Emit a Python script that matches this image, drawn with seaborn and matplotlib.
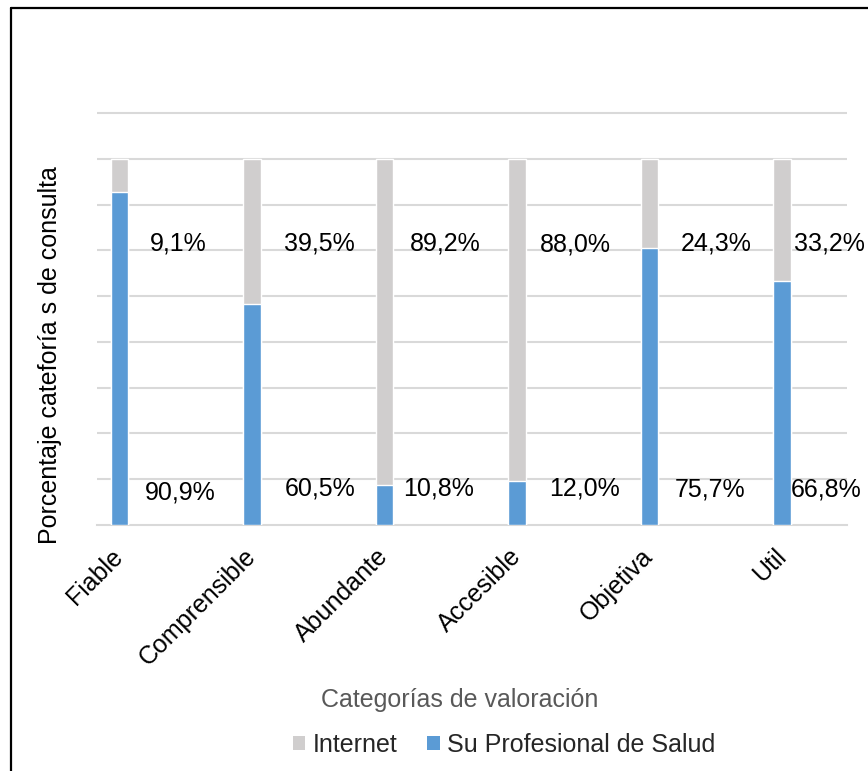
import matplotlib
matplotlib.use("Agg")
import matplotlib.pyplot as plt
from matplotlib.lines import Line2D
from matplotlib.patches import Patch
import seaborn as sns
import pandas as pd
import numpy as np

categories = ["Fiable", "Comprensible", "Abundante", "Accesible", "Objetiva", "Util"]
internet = [9.1, 39.5, 89.2, 88.0, 24.3, 33.2]
profesional = [90.9, 60.5, 10.8, 12.0, 75.7, 66.8]
series_names = ["Internet", "Su Profesional de Salud"]
ylabel = "Porcentaje cateforía s de consulta"
xlabel = "Categorías de valoración"

# label placement (offsets from bar centre, in category units / y in %)
top_dx = [0.44, 0.51, 0.457, 0.44, 0.50, 0.36]
top_y = [77.0, 77.0, 77.0, 76.5, 77.0, 77.0]
bot_dx = [0.457, 0.513, 0.404, 0.51, 0.453, 0.332]
bot_y = [9.0, 10.1, 10.1, 10.1, 9.6, 9.6]

GRAY = "#D0CECE"
BLUE = "#5B9BD5"
GRID = "#D9D9D9"

sns.set_theme(style="white")
plt.rcParams["font.family"] = ["Liberation Sans", "DejaVu Sans"]
FS = 18

df = pd.DataFrame({"cat": categories, "internet": internet, "prof": profesional})
df["total"] = df["internet"] + df["prof"]

fig = plt.figure(figsize=(8.68, 7.71), dpi=100)
W, H = 868, 771
ax_left, ax_right = 97, 847
ax_bottom_px, ax_top_px = 525, 111.4
ax = fig.add_axes([ax_left / W, 1 - ax_bottom_px / H, (ax_right - ax_left) / W,
                   (ax_bottom_px - ax_top_px) / H])

sns.barplot(data=df, x="cat", y="total", color=GRAY, width=0.13, saturation=1,
            ax=ax, zorder=3)
sns.barplot(data=df, x="cat", y="prof", color=BLUE, width=0.13, saturation=1,
            ax=ax, zorder=3)
if ax.get_legend() is not None:
    ax.get_legend().remove()

ax.set_ylim(0, 113)
ax.set_xlim(-0.17, 5.49)
ax.set_yticks(np.arange(12.5, 113, 12.5))
ax.set_yticklabels([])
ax.tick_params(axis="y", length=0)
ax.grid(axis="y", color=GRID, linewidth=1.5, zorder=0)
ax.set_axisbelow(True)
for s in ["top", "left", "right"]:
    ax.spines[s].set_visible(False)
ax.spines["bottom"].set_color(GRID)
ax.spines["bottom"].set_linewidth(1.5)

def fmt(v):
    return f"{v:.1f}".replace(".", ",") + "%"

for i in range(len(categories)):
    ax.text(i + top_dx[i], top_y[i], fmt(internet[i]), ha="center", va="center",
            fontsize=FS, color="black", zorder=5)
    ax.text(i + bot_dx[i], bot_y[i], fmt(profesional[i]), ha="center", va="center",
            fontsize=FS, color="black", zorder=5)

ax.set_xticks(range(len(categories)))
ax.set_xticklabels(categories, rotation=45, ha="right", va="center",
                   rotation_mode="anchor", fontsize=FS, color="black")
ax.tick_params(axis="x", length=0, pad=20)

ax.set_xlabel("")
ax.set_ylabel("")
fig.text(50 / W, 1 - 355 / H, ylabel, rotation=90, ha="center", va="center",
         fontsize=FS, color="black")
fig.text(460 / W, 1 - 700 / H, xlabel, ha="center", va="center",
         fontsize=FS, color="#595959")

handles = [Patch(facecolor=GRAY, edgecolor="none"), Patch(facecolor=BLUE, edgecolor="none")]
fig.legend(handles, series_names, loc="center", bbox_to_anchor=(504 / W, 1 - 745 / H),
           ncol=2, frameon=False, fontsize=FS, handlelength=0.5, handleheight=0.5,
           handletextpad=0.3, columnspacing=1.2)

# figure border (top and left visible)
fig.add_artist(Line2D([11 / W, 11 / W], [0, 1 - 8 / H], color="black", linewidth=1.6,
                      transform=fig.transFigure))
fig.add_artist(Line2D([11 / W, 1], [1 - 8 / H, 1 - 8 / H], color="black", linewidth=1.6,
                      transform=fig.transFigure))

fig.savefig("out.png", dpi=100)
